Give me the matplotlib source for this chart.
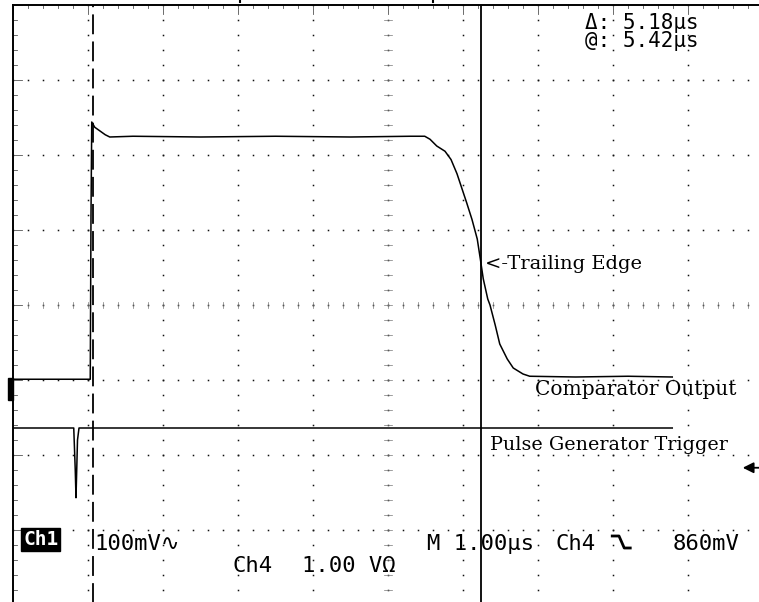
import matplotlib.pyplot as plt
import numpy as np

# scope screen: 10 div x 8 div, 1.00 us/div, amplitude in divisions
ch1_t = [0.0, 1.03, 1.04, 1.05, 1.09, 1.16, 1.23, 1.29, 1.6, 2.5, 3.5, 4.5, 5.3, 5.49,
         5.56, 5.65, 5.76, 5.84, 5.92, 5.99, 6.05, 6.12, 6.19, 6.23, 6.27, 6.33, 6.36,
         6.43, 6.49, 6.59, 6.67, 6.80, 6.89, 7.5, 8.2, 8.79]
ch1_v = [-0.99, -0.99, 1.2, 2.44, 2.37, 2.32, 2.27, 2.24, 2.25, 2.24, 2.25, 2.24, 2.25, 2.25,
         2.21, 2.12, 2.05, 1.94, 1.75, 1.54, 1.36, 1.14, 0.88, 0.62, 0.35, 0.08, 0.0,
         -0.27, -0.52, -0.72, -0.84, -0.92, -0.95, -0.96, -0.95, -0.96]

ch4_t = [0.0, 0.81, 0.83, 0.84, 0.86, 0.88, 8.79]
ch4_v = [-1.64, -1.64, -2.2, -2.57, -1.80, -1.64, -1.64]

cursor_b = 6.24          # solid cursor (us)
cursor_delta = 5.18      # us between cursors
cursor_a = cursor_b - cursor_delta
trig_level = -2.17       # trigger level arrow (div)
trig_marks = [3.03, 5.6]

delta_label = "\u0394: 5.18\u00b5s"
at_label = "@: 5.42\u00b5s"

fig = plt.figure(figsize=(7.59, 6.02), dpi=100)
ax = fig.add_axes([13 / 759, -3 / 602, 750 / 759, 600 / 602])
ax.set_xlim(0, 10)
ax.set_ylim(-4, 4)
ax.axis("off")

# graticule dots
steps = np.arange(0, 10.01, 0.2)
vsteps = np.arange(-4, 4.01, 0.2)
for gx in range(1, 10):
    ax.plot(np.full(len(vsteps), gx), vsteps, "s", ms=1.1, color="#111", mew=0)
for gy in range(-3, 4):
    ax.plot(steps, np.full(len(steps), gy), "s", ms=1.1, color="#111", mew=0)

# center cross ticks
for sx in steps:
    ax.plot([sx, sx], [-0.035, 0.035], color="#777", lw=0.5)
for sy in vsteps:
    ax.plot([4.95, 5.05], [sy, sy], color="#777", lw=0.5)

# border ticks
for sx in steps:
    ln = 0.12 if abs(sx - round(sx)) < 1e-6 else 0.04
    ax.plot([sx, sx], [4, 4 - ln], color="#555", lw=0.6)
for sy in vsteps:
    ln = 0.12 if abs(sy - round(sy)) < 1e-6 else 0.05
    ax.plot([0, ln], [sy, sy], color="#555", lw=0.6)

# border
ax.plot([0, 0], [-4, 4], color="black", lw=1.4, clip_on=False)
ax.plot([0, 10], [4, 4], color="black", lw=1.4, clip_on=False)

# traces
ax.plot(ch1_t, ch1_v, color="black", lw=1.1)
ax.plot(ch4_t, ch4_v, color="black", lw=1.1)

# cursors
ax.plot([cursor_a, cursor_a], [-4, 4], color="black", lw=1.3, dashes=(11, 4))
ax.axvline(cursor_b, color="black", lw=1.3)

# markers outside the graticule
ax.add_patch(plt.Rectangle((-0.067, -1.27), 0.067, 0.3, color="black", clip_on=False))
for tm in trig_marks:
    ax.plot([tm, tm], [4.035, 4.055], color="black", lw=1.5, clip_on=False)
ax.annotate("", xy=(9.73, trig_level), xytext=(10.0, trig_level),
            arrowprops=dict(arrowstyle="-|>", color="black", lw=1.3,
                            mutation_scale=16, shrinkA=0, shrinkB=0))

mono = ["DejaVu Sans Mono", "DejaVu Sans"]
serif = "DejaVu Serif"

# cursor readout
ax.text(7.63, 3.89, delta_label + "\n" + at_label, family=mono, fontsize=15,
        va="top", linespacing=0.88)

# annotations
ax.text(6.29, 0.48, "<-Trailing Edge", family=serif, fontsize=14)
ax.text(6.96, -1.2, "Comparator Output", family=serif, fontsize=14.5)
ax.text(6.36, -1.93, "Pulse Generator Trigger", family=serif, fontsize=13.8)

# status line
ax.text(0.37, -3.13, "Ch1", family=mono, fontsize=14, fontweight="bold", color="white",
        ha="center", va="center",
        bbox=dict(boxstyle="square,pad=0.1", fc="black", ec="black"))
ax.text(1.09, -3.27, "100mV\u223f", family=mono, fontsize=16)
ax.text(2.93, -3.56, "Ch4", family=mono, fontsize=16)
ax.text(3.85, -3.56, "1.00 V\u03a9", family=mono, fontsize=16)
ax.text(5.52, -3.27, "M 1.00\u00b5s", family=mono, fontsize=16)
ax.text(7.23, -3.27, "Ch4", family=mono, fontsize=16)
edge_x = np.array([0, 0.09, 0.16, 0.24]) + 7.99
edge_y = np.array([0, 0, -0.16, -0.16]) - 3.08
ax.plot(edge_x, edge_y, color="black", lw=2.0)
ax.text(8.8, -3.27, "860mV", family=mono, fontsize=16)

fig.savefig("out.png", dpi=100)
